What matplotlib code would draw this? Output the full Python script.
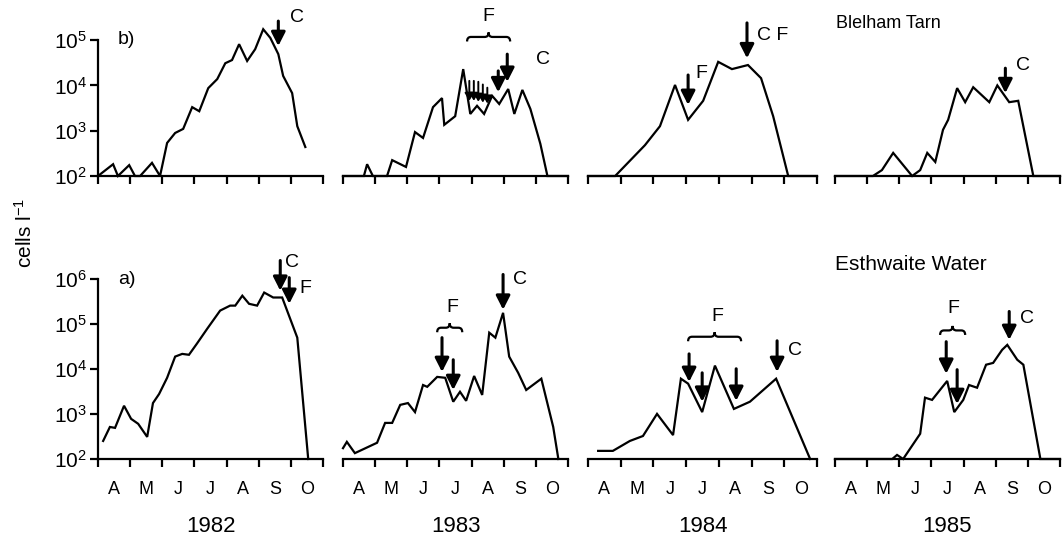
import numpy as np
import matplotlib.pyplot as plt
from matplotlib.path import Path
from matplotlib.patches import PathPatch
from matplotlib.ticker import NullLocator

plt.rcParams['font.family'] = ['Liberation Sans', 'DejaVu Sans']
plt.rcParams['mathtext.fontset'] = 'custom'
plt.rcParams['mathtext.rm'] = 'Liberation Sans'
plt.rcParams['mathtext.it'] = 'Liberation Sans:italic'

W, H = 1063, 544

months = ['A', 'M', 'J', 'J', 'A', 'S', 'O']
years = ['1982', '1983', '1984', '1985']

# x = months after 1 April, y = log10(cells l-1)
# b) Blelham Tarn
bt82_x = [0.00, 0.47, 0.62, 0.97, 1.15, 1.31, 1.68, 1.93, 2.15, 2.40, 2.65, 2.93, 3.15, 3.43,
          3.71, 3.96, 4.17, 4.39, 4.64, 4.89, 5.14, 5.36, 5.61, 5.76, 6.04, 6.20, 6.45]
bt82_y = [2.00, 2.26, 2.00, 2.24, 2.00, 2.00, 2.29, 2.00, 2.73, 2.95, 3.04, 3.52, 3.43, 3.94,
          4.14, 4.49, 4.56, 4.91, 4.54, 4.80, 5.24, 5.05, 4.69, 4.21, 3.83, 3.10, 2.64]
bt83_x = [0.00, 0.65, 0.75, 0.93, 1.37, 1.53, 1.96, 2.24, 2.49, 2.80, 3.08, 3.15, 3.49, 3.74,
          3.96, 4.17, 4.39, 4.64, 4.86, 5.14, 5.33, 5.58, 5.83, 6.14, 6.36, 7.00]
bt83_y = [2.00, 2.00, 2.26, 2.00, 2.00, 2.35, 2.20, 2.97, 2.84, 3.52, 3.72, 3.13, 3.32, 4.36,
          3.37, 3.55, 3.37, 3.77, 3.59, 3.92, 3.37, 3.90, 3.48, 2.71, 2.00, 2.00]
bt84_x = [0.00, 0.83, 1.74, 2.20, 2.66, 3.06, 3.52, 3.98, 4.40, 4.89, 5.29, 5.66, 6.12, 7.00]
bt84_y = [2.00, 2.00, 2.68, 3.10, 4.01, 3.24, 3.66, 4.52, 4.36, 4.45, 4.16, 3.32, 2.00, 2.00]
bt85_x = [0.00, 1.18, 1.46, 1.81, 2.40, 2.65, 2.87, 3.12, 3.36, 3.52, 3.80, 4.05, 4.30, 4.80,
          5.05, 5.42, 5.70, 6.17, 7.00]
bt85_y = [2.00, 2.00, 2.13, 2.51, 2.00, 2.13, 2.51, 2.31, 3.02, 3.24, 3.94, 3.63, 3.96, 3.63,
          4.00, 3.63, 3.66, 2.00, 2.00]

# a) Esthwaite Water
ew82_x = [0.16, 0.37, 0.53, 0.81, 1.03, 1.25, 1.53, 1.71, 1.90, 2.15, 2.40, 2.62, 2.83, 3.08,
          3.40, 3.80, 4.11, 4.27, 4.49, 4.70, 4.95, 5.17, 5.45, 5.73, 5.92, 6.20, 6.54]
ew82_y = [2.40, 2.71, 2.69, 3.18, 2.89, 2.78, 2.49, 3.24, 3.44, 3.80, 4.27, 4.33, 4.31, 4.56,
          4.89, 5.29, 5.40, 5.40, 5.62, 5.44, 5.40, 5.69, 5.58, 5.58, 5.22, 4.69, 2.00]
ew83_x = [0.00, 0.12, 0.37, 1.06, 1.31, 1.53, 1.78, 2.02, 2.24, 2.49, 2.62, 2.93, 3.18, 3.43,
          3.64, 3.83, 4.08, 4.33, 4.55, 4.74, 4.98, 5.17, 5.45, 5.70, 6.17, 6.54, 6.70]
ew83_y = [2.24, 2.38, 2.13, 2.36, 2.80, 2.80, 3.20, 3.24, 3.04, 3.64, 3.60, 3.82, 3.80, 3.27,
          3.49, 3.29, 3.84, 3.42, 4.80, 4.69, 5.24, 4.27, 3.91, 3.53, 3.78, 2.71, 2.00]
ew84_x = [0.31, 0.76, 1.28, 1.68, 2.11, 2.60, 2.84, 3.06, 3.49, 3.88, 4.46, 4.95, 5.75, 6.79]
ew84_y = [2.18, 2.18, 2.40, 2.51, 3.00, 2.53, 3.78, 3.67, 3.04, 4.07, 3.11, 3.27, 3.78, 2.00]
ew85_x = [0.00, 1.78, 1.93, 2.12, 2.65, 2.80, 3.02, 3.49, 3.71, 3.99, 4.17, 4.42, 4.70, 4.92,
          5.20, 5.36, 5.67, 5.86, 6.39, 7.00]
ew85_y = [2.00, 2.00, 2.09, 2.00, 2.56, 3.36, 3.31, 3.73, 3.04, 3.31, 3.64, 3.58, 4.09, 4.13,
          4.42, 4.53, 4.20, 4.09, 2.00, 2.00]

# arrows: (x, tail, tip)  labels: (x, y, text)  braces: (x1, x2, y)
bt82_arrows = [(5.61, 5.42, 4.87)]
bt82_labels = [(6.20, 5.50, 'C')]
bt83_arrows = [(4.83, 4.32, 3.85), (5.11, 4.69, 4.08)]
bt83_small = [(3.93, 4.10, 3.66), (4.07, 4.10, 3.66), (4.21, 4.08, 3.64),
              (4.35, 4.02, 3.62), (4.49, 3.95, 3.60)]
bt83_labels = [(6.23, 4.58, 'C'), (4.52, 5.53, 'F')]
bt83_braces = [(3.86, 5.20, 5.07)]
bt84_arrows = [(3.06, 4.23, 3.57), (4.86, 5.38, 4.60)]
bt84_labels = [(3.45, 4.27, 'F'), (5.63, 5.11, 'C F')]
bt85_arrows = [(5.30, 4.38, 3.83)]
bt85_labels = [(5.86, 4.43, 'C')]

ew82_arrows = [(5.67, 6.40, 5.73), (5.95, 6.02, 5.44)]
ew82_labels = [(6.05, 6.36, 'C'), (6.45, 5.78, 'F')]
ew83_arrows = [(3.08, 4.69, 3.93), (3.43, 4.20, 3.53), (4.98, 6.09, 5.31)]
ew83_labels = [(3.40, 5.36, 'F'), (5.51, 5.98, 'C')]
ew83_braces = [(2.93, 3.71, 4.91)]
ew84_arrows = [(3.09, 4.33, 3.71), (3.49, 3.91, 3.27), (4.53, 4.00, 3.29), (5.78, 4.62, 3.93)]
ew84_labels = [(3.94, 5.16, 'F'), (6.33, 4.40, 'C')]
ew84_braces = [(3.06, 4.68, 4.71)]
ew85_arrows = [(3.46, 4.60, 3.89), (3.80, 3.98, 3.22), (5.42, 5.27, 4.64)]
ew85_labels = [(3.68, 5.33, 'F'), (5.98, 5.11, 'C')]
ew85_braces = [(3.27, 4.05, 4.85)]

top_rows = [
    (bt82_x, bt82_y, bt82_arrows, [], bt82_labels, []),
    (bt83_x, bt83_y, bt83_arrows, bt83_small, bt83_labels, bt83_braces),
    (bt84_x, bt84_y, bt84_arrows, [], bt84_labels, []),
    (bt85_x, bt85_y, bt85_arrows, [], bt85_labels, []),
]
bottom_rows = [
    (ew82_x, ew82_y, ew82_arrows, [], ew82_labels, []),
    (ew83_x, ew83_y, ew83_arrows, [], ew83_labels, ew83_braces),
    (ew84_x, ew84_y, ew84_arrows, [], ew84_labels, ew84_braces),
    (ew85_x, ew85_y, ew85_arrows, [], ew85_labels, ew85_braces),
]

col_left = [98, 343, 588, 835]
col_width = [225, 225, 229, 225]

fig = plt.figure(figsize=(W / 100, H / 100), dpi=100)


def px_axes(left, top, width, height):
    return fig.add_axes([left / W, 1 - (top + height) / H, width / W, height / H])


def brace(ax, x1, x2, y, h=0.1, d=0.12):
    xm = 0.5 * (x1 + x2)
    v = [(x1, 10 ** (y - h)), (x1, 10 ** y), (x1 + d, 10 ** y),
         (xm - d, 10 ** y), (xm, 10 ** y), (xm, 10 ** (y + h)),
         (xm, 10 ** y), (xm + d, 10 ** y),
         (x2 - d, 10 ** y), (x2, 10 ** y), (x2, 10 ** (y - h))]
    c = [Path.MOVETO, Path.CURVE3, Path.CURVE3, Path.LINETO, Path.CURVE3, Path.CURVE3,
         Path.CURVE3, Path.CURVE3, Path.LINETO, Path.CURVE3, Path.CURVE3]
    ax.add_patch(PathPatch(Path(v, c), fill=False, lw=1.6, color='black', clip_on=False))


def draw_panel(ax, data, top_dec, first, bottom):
    x, y, arrows, small, labels, braces = data
    ax.set_yscale('log')
    ax.set_xlim(0, 7)
    ax.set_ylim(1e2, 10 ** top_dec)
    ax.plot(x, 10 ** np.array(y), color='black', lw=1.6, clip_on=False,
            solid_joinstyle='miter')

    for xa, tail, tip in arrows:
        ax.annotate('', xy=(xa, 10 ** tip), xytext=(xa, 10 ** tail),
                    arrowprops=dict(arrowstyle='-|>,head_length=0.55,head_width=0.28',
                                    lw=2.2, color='black', mutation_scale=15,
                                    shrinkA=0, shrinkB=0),
                    annotation_clip=False)
    for xa, tail, tip in small:
        ax.annotate('', xy=(xa, 10 ** tip), xytext=(xa, 10 ** tail),
                    arrowprops=dict(arrowstyle='-|>,head_length=0.5,head_width=0.3',
                                    lw=1.4, color='black', mutation_scale=9,
                                    shrinkA=0, shrinkB=0),
                    annotation_clip=False)
    for xt, yt, t in labels:
        ax.text(xt, 10 ** yt, t, ha='center', va='center', fontsize=14)
    for x1, x2, yb in braces:
        brace(ax, x1, x2, yb)

    for s in ['top', 'right']:
        ax.spines[s].set_visible(False)
    ax.spines['bottom'].set_linewidth(1.6)
    ax.spines['bottom'].set_bounds(0, 7)
    ax.set_xticks(range(8))
    ax.set_xticklabels([])
    ax.tick_params(axis='x', which='major', direction='out', length=6, width=1.6)
    if bottom:
        ax.set_xticks(np.arange(7) + 0.5, minor=True)
        ax.set_xticklabels(months, minor=True, fontsize=13)
        ax.tick_params(axis='x', which='minor', length=0, pad=16)

    ax.yaxis.set_minor_locator(NullLocator())
    if first:
        decs = list(range(2, int(top_dec) + 1))
        ax.spines['left'].set_linewidth(1.6)
        ax.spines['left'].set_bounds(1e2, 10 ** decs[-1])
        ax.set_yticks([10 ** d for d in decs])
        ax.set_yticklabels([r'$10^{%d}$' % d for d in decs], fontsize=15)
        ax.tick_params(axis='y', direction='out', length=6, width=1.6, pad=2)
    else:
        ax.spines['left'].set_visible(False)
        ax.set_yticks([])
    ax.patch.set_alpha(0)


for i in range(4):
    ax = px_axes(col_left[i], 22, col_width[i], 154)
    draw_panel(ax, top_rows[i], 5.4, i == 0, False)
    ax = px_axes(col_left[i], 256, col_width[i], 203)
    draw_panel(ax, bottom_rows[i], 6.5, i == 0, True)
    fig.text((col_left[i] + col_width[i] / 2) / W, 1 - 527 / H, years[i],
             ha='center', va='center', fontsize=16)

fig.text(25 / W, 1 - 233 / H, r'cells l$^{-1}$', rotation=90, ha='center', va='center',
         fontsize=15)
fig.text(118 / W, 1 - 40 / H, 'b)', ha='left', va='center', fontsize=14)
fig.text(118 / W, 1 - 279 / H, 'a)', ha='left', va='center', fontsize=14)
fig.text(836 / W, 1 - 23 / H, 'Blelham Tarn', ha='left', va='center', fontsize=13)
fig.text(835 / W, 1 - 265 / H, 'Esthwaite Water', ha='left', va='center', fontsize=15)

fig.savefig('out.png', dpi=100)
